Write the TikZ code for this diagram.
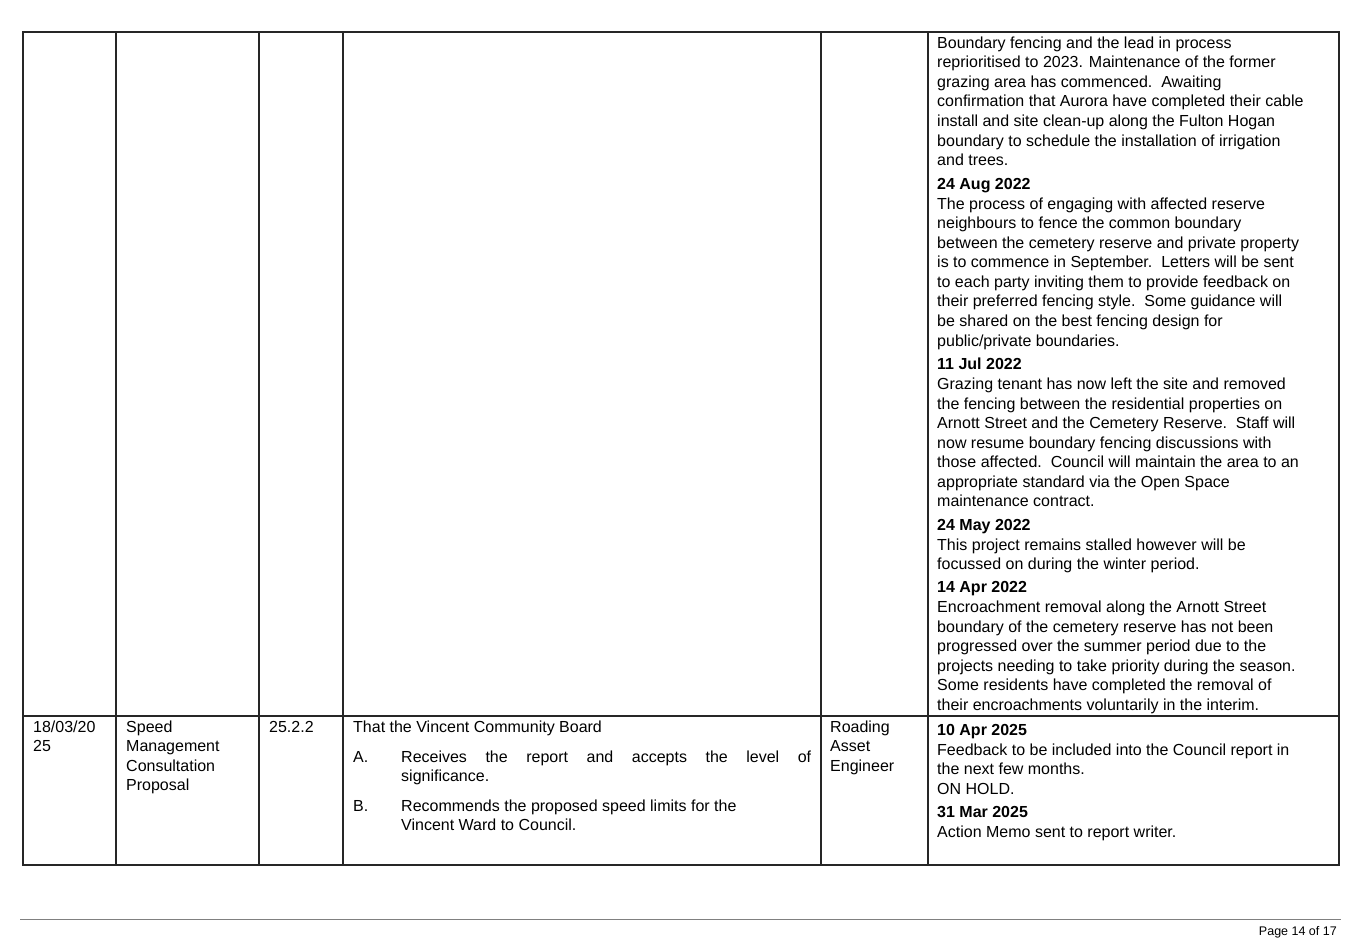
\documentclass[tikz,border=0pt]{standalone}
\usepackage{fontspec}
\setmainfont{Liberation Sans}
\begin{document}
\begin{tikzpicture}[x=1pt,y=-1pt,
  tl/.style={anchor=base west,inner sep=0pt,font=\fontsize{16}{19.6}\selectfont},
  tb/.style={tl,font=\fontsize{16}{19.6}\selectfont\bfseries},
  grid/.style={line width=1.6pt,black!85}]
\useasboundingbox[fill=white] (0,0) rectangle (1361,939);
\draw[grid] (23,32) rectangle (1339,865);
\foreach \x in {116,259,343,821,928} \draw[grid] (\x,32) -- (\x,865);
\draw[grid] (23,716) -- (1339,716);
\newcommand\Ln[3][tl]{\node[#1] at (937,#2+5.5) {#3};}
\Ln{43}{Boundary fencing and the lead in process}
\Ln{62}{reprioritised to 2023. Maintenance of the former}
\Ln{82}{grazing area has commenced.\ \ Awaiting}
\Ln{101}{confirmation that Aurora have completed their cable}
\Ln{121}{install and site clean-up along the Fulton Hogan}
\Ln{141}{boundary to schedule the installation of irrigation}
\Ln{160}{and trees.}
\Ln[tb]{184}{24 Aug 2022}
\Ln{204}{The process of engaging with affected reserve}
\Ln{223}{neighbours to fence the common boundary}
\Ln{243}{between the cemetery reserve and private property}
\Ln{262}{is to commence in September.\ \ Letters will be sent}
\Ln{282}{to each party inviting them to provide feedback on}
\Ln{301}{their preferred fencing style.\ \ Some guidance will}
\Ln{321}{be shared on the best fencing design for}
\Ln{341}{public/private boundaries.}
\Ln[tb]{364}{11 Jul 2022}
\Ln{384}{Grazing tenant has now left the site and removed}
\Ln{404}{the fencing between the residential properties on}
\Ln{423}{Arnott Street and the Cemetery Reserve.\ \ Staff will}
\Ln{443}{now resume boundary fencing discussions with}
\Ln{462}{those affected.\ \ Council will maintain the area to an}
\Ln{482}{appropriate standard via the Open Space}
\Ln{501}{maintenance contract.}
\Ln[tb]{525}{24 May 2022}
\Ln{545}{This project remains stalled however will be}
\Ln{564}{focussed on during the winter period.}
\Ln[tb]{587}{14 Apr 2022}
\Ln{607}{Encroachment removal along the Arnott Street}
\Ln{627}{boundary of the cemetery reserve has not been}
\Ln{646}{progressed over the summer period due to the}
\Ln{666}{projects needing to take priority during the season.}
\Ln{685}{Some residents have completed the removal of}
\Ln{705}{their encroachments voluntarily in the interim.}
\Ln[tb]{730}{10 Apr 2025}
\Ln{750}{Feedback to be included into the Council report in}
\Ln{769}{the next few months.}
\Ln{789}{ON HOLD.}
\Ln[tb]{812}{31 Mar 2025}
\Ln{832}{Action Memo sent to report writer.}
% left cells
\node[tl] (d1) at (33,732.5) {18/03/20};
\node[tl] (d2) at (33,751.5) {25};
\node[tl] (s1) at (126,732.5) {Speed};
\node[tl] (s2) at (126,751.5) {Management};
\node[tl] (s3) at (126,771.5) {Consultation};
\node[tl] (s4) at (126,790.5) {Proposal};
\node[tl] (n1) at (269,732.5) {25.2.2};
\node[tl] (r0) at (353,732.5) {That the Vincent Community Board};
\node[tl] (ra) at (353,762.5) {A.};
\node[tl] (ra1) at (401,762.5) {\makebox[410pt][s]{Receives the report and accepts the level of}};
\node[tl] (ra2) at (401,781.5) {significance.};
\node[tl] (rb) at (353,811.5) {B.};
\node[tl] (rb1) at (401,811.5) {Recommends the proposed speed limits for the};
\node[tl] (rb2) at (401,830.5) {Vincent Ward to Council.};
\node[tl] (o1) at (830,732.5) {Roading};
\node[tl] (o2) at (830,751.5) {Asset};
\node[tl] (o3) at (830,771.5) {Engineer};
% footer
\draw[black!50,line width=0.7pt] (20,919) -- (1341,919);
\node[anchor=base east,inner sep=0pt,font=\fontsize{12.5}{15}\selectfont] (pg) at (1337,935) {Page 14 of 17};
\end{tikzpicture}
\end{document}
